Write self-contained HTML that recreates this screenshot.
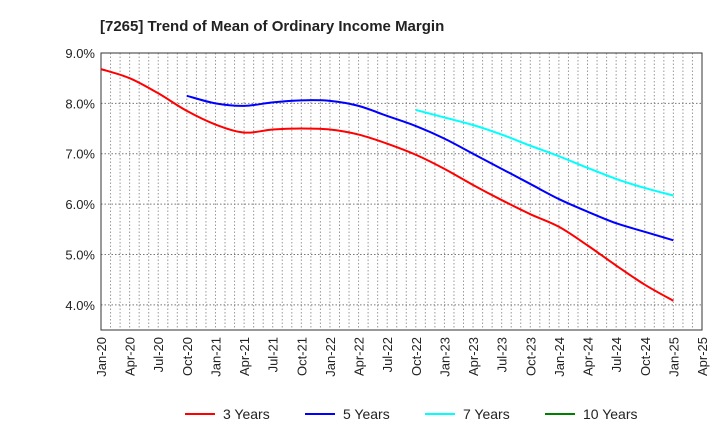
<!DOCTYPE html>
<html><head><meta charset="utf-8"><style>
body{margin:0;background:#fff;font-family:"Liberation Sans",Arial,sans-serif}
</style></head><body>
<svg id="c" width="720" height="440" xmlns="http://www.w3.org/2000/svg">
<text x="100" y="31" font-size="15" font-weight="bold" fill="#222">[7265]  Trend of Mean of Ordinary Income Margin</text>
<g id="grid"></g><g id="axes"></g><g id="series"></g><g id="legend"></g>
</svg>
<script>
const xLabels=["Jan-20","Apr-20","Jul-20","Oct-20","Jan-21","Apr-21","Jul-21","Oct-21","Jan-22","Apr-22","Jul-22","Oct-22","Jan-23","Apr-23","Jul-23","Oct-23","Jan-24","Apr-24","Jul-24","Oct-24","Jan-25","Apr-25"];
const yTicks=[4.0,5.0,6.0,7.0,8.0,9.0];
const s3=[8.68,8.5,8.2,7.85,7.58,7.42,7.48,7.5,7.48,7.38,7.2,6.98,6.7,6.38,6.08,5.8,5.55,5.18,4.78,4.4,4.08];
const s5=[8.15,8.0,7.95,8.02,8.06,8.05,7.95,7.75,7.55,7.3,7.0,6.7,6.4,6.1,5.85,5.62,5.45,5.28];
const s7=[7.87,7.72,7.57,7.38,7.16,6.95,6.72,6.5,6.32,6.17];
const s10=[];
const starts=[0,3,11,0];
const names=["3 Years","5 Years","7 Years","10 Years"];
const colors=["#ff0000","#0000ff","#00ffff","#008000"];
const L=101,R=702,T=53,B=330,yMin=3.5,yMax=9.0;
const NS="http://www.w3.org/2000/svg";
const xs=q=>L+q*(R-L)/(xLabels.length-1);
const ys=v=>B-(v-yMin)*(B-T)/(yMax-yMin);
function mk(t,a,p){const e=document.createElementNS(NS,t);for(const k in a)e.setAttribute(k,a[k]);p.appendChild(e);return e;}
const g=document.getElementById('grid'),ax=document.getElementById('axes'),se=document.getElementById('series'),lg=document.getElementById('legend');
for(let m=1;m<(xLabels.length-1)*3;m++){const x=L+m*(R-L)/((xLabels.length-1)*3);
const l=mk('line',{x1:x,x2:x,y1:T,y2:B,stroke:'#999','stroke-dasharray':'1.5,2','stroke-width':1},g);

}
yTicks.forEach(v=>{const y=ys(v);
const l=mk('line',{x1:L,x2:R,y1:y,y2:y,stroke:'#777','stroke-dasharray':'1.5,2','stroke-width':1},g);


const t=mk('text',{x:L-6,y:y+5,'font-size':13,'text-anchor':'end',fill:'#222'},ax);t.textContent=v.toFixed(1)+'%';

});
const fr=mk('rect',{x:L,y:T,width:R-L,height:B-T,fill:'none',stroke:'#333','stroke-width':1},ax);


xLabels.forEach((s,i)=>{const x=xs(i);
const t=mk('text',{x:0,y:0,'font-size':13,'text-anchor':'end',fill:'#222',transform:`translate(${x+5},${B+7}) rotate(-90)`},ax);t.textContent=s;

});
[s3,s5,s7,s10].forEach((d,k)=>{if(!d.length)return;
const p=d.map((v,i)=>[xs(starts[k]+i),ys(v)]);
let path=`M${p[0][0]},${p[0][1]}`;
for(let i=0;i<p.length-1;i++){const p0=p[i-1]||p[i],p1=p[i],p2=p[i+1],p3=p[i+2]||p2;
path+=` C${p1[0]+(p2[0]-p0[0])/6},${p1[1]+(p2[1]-p0[1])/6} ${p2[0]-(p3[0]-p1[0])/6},${p2[1]-(p3[1]-p1[1])/6} ${p2[0]},${p2[1]}`;}
const e=mk('path',{d:path,fill:'none',stroke:colors[k],'stroke-width':2},se);

});
const lx=[185,305,425,545];
names.forEach((n,k)=>{
const l=mk('line',{x1:lx[k],x2:lx[k]+30,y1:414,y2:414,stroke:colors[k],'stroke-width':2},lg);


const t=mk('text',{x:lx[k]+38,y:419,'font-size':14,fill:'#222'},lg);t.textContent=n;

});
</script>
</body></html>
